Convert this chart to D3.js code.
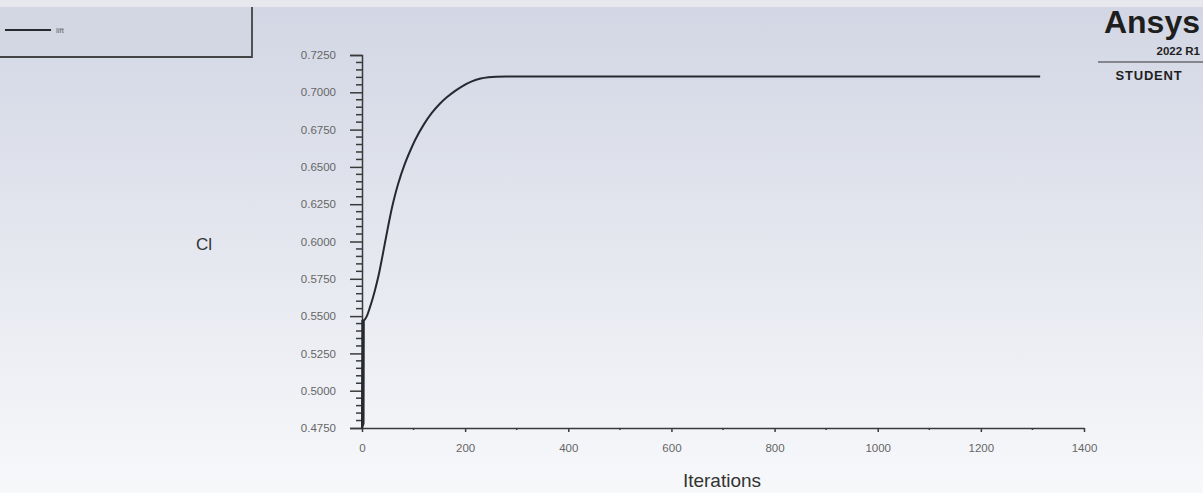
<!DOCTYPE html>
<html>
<head>
<meta charset="utf-8">
<script src="https://cdn.jsdelivr.net/npm/d3@7"></script>
<style>
  html, body { margin: 0; padding: 0; background: #fff; }
  svg { display: block; font-family: "Liberation Sans", Arial, sans-serif; }
</style>
</head>
<body>
<div id="chart"></div>
<script>
'use strict';

// lift coefficient history
const iterations = [0, 0.5, 1, 1.5, 2, 2.5, 3, 3.5, 4, 6, 10, 15, 20, 25, 32, 39, 45, 50, 58, 64, 70,
  83, 95, 103, 120, 135, 150, 165, 180, 195, 213, 230, 245, 260, 280, 400, 600, 800, 1000, 1200, 1315];
const liftValues = [0.4750, 0.5480, 0.4750, 0.5475, 0.4760, 0.5470, 0.4780, 0.5470, 0.5472, 0.5480,
  0.5505, 0.5555, 0.5610, 0.5672, 0.5770, 0.5890, 0.6000, 0.6090, 0.6225, 0.6310, 0.6385,
  0.6520, 0.6620, 0.6680, 0.6785, 0.6860, 0.6920, 0.6968, 0.7008, 0.7042, 0.7073, 0.7092,
  0.7101, 0.7105, 0.7106, 0.7106, 0.7106, 0.7106, 0.7106, 0.7106, 0.7106];

const yTicks = [0.4750, 0.5000, 0.5250, 0.5500, 0.5750, 0.6000, 0.6250, 0.6500, 0.6750, 0.7000, 0.7250];
const xTicks = [0, 200, 400, 600, 800, 1000, 1200, 1400];
const seriesName = 'lift';

const width = 1203, height = 493;
const margin = { left: 362, right: 119, top: 55, bottom: 65 };

const svg = d3.select('#chart').append('svg')
  .attr('width', width)
  .attr('height', height);

// background gradient
const defs = svg.append('defs');
const grad = defs.append('linearGradient')
  .attr('id', 'bg')
  .attr('x1', 0).attr('y1', 0).attr('x2', 0).attr('y2', 1);
grad.append('stop').attr('offset', '0%').attr('stop-color', '#d2d6e4');
grad.append('stop').attr('offset', '100%').attr('stop-color', '#f7f8fa');

svg.append('rect')
  .attr('width', width).attr('height', height)
  .attr('fill', 'url(#bg)');
svg.append('rect')
  .attr('width', width).attr('height', 7)
  .attr('fill', '#e6e8ee');

const x = d3.scaleLinear()
  .domain([0, 1400])
  .range([margin.left, width - margin.right]);

const y = d3.scaleLinear()
  .domain([0.4750, 0.7250])
  .range([height - margin.bottom, margin.top]);

const axisColor = '#3a3a3a';
const labelColor = '#666';

// y axis
const yAxis = svg.append('g')
  .attr('transform', `translate(${margin.left},0)`)
  .call(d3.axisLeft(y).tickValues(yTicks).tickSize(12).tickPadding(14)
    .tickFormat(d3.format('.4f')));
yAxis.select('.domain').attr('stroke', axisColor).attr('stroke-width', 1.5);
yAxis.selectAll('.tick line').attr('stroke', axisColor).attr('stroke-width', 1.5);
yAxis.selectAll('.tick text')
  .style('fill', labelColor)
  .style('font-size', '11.5px');

// y minor ticks
const yMinor = d3.range(0.4750, 0.7250001, 0.005).filter(v => !yTicks.some(t => Math.abs(t - v) < 1e-6));
svg.append('g').selectAll('line')
  .data(yMinor)
  .enter().append('line')
  .attr('x1', margin.left - 6).attr('x2', margin.left)
  .attr('y1', d => y(d)).attr('y2', d => y(d))
  .attr('stroke', axisColor).attr('stroke-width', 1.5);

// x axis
const xAxis = svg.append('g')
  .attr('transform', `translate(0,${height - margin.bottom})`)
  .call(d3.axisBottom(x).tickValues(xTicks).tickSize(4).tickPadding(12).tickSizeOuter(0)
    .tickFormat(d3.format('d')));
xAxis.select('.domain').attr('stroke', axisColor).attr('stroke-width', 1.5);
xAxis.selectAll('.tick line').attr('stroke', axisColor).attr('stroke-width', 1.5);
xAxis.selectAll('.tick text')
  .style('fill', labelColor)
  .style('font-size', '11.5px');

// x minor ticks
svg.append('g').selectAll('line')
  .data(d3.range(100, 1400, 200))
  .enter().append('line')
  .attr('x1', d => x(d)).attr('x2', d => x(d))
  .attr('y1', height - margin.bottom).attr('y2', height - margin.bottom + 2)
  .attr('stroke', axisColor).attr('stroke-width', 1.5);

// axis titles
svg.append('text')
  .attr('x', 204).attr('y', 250)
  .attr('text-anchor', 'middle')
  .attr('fill', '#333')
  .style('font-size', '17px')
  .text('Cl');

svg.append('text')
  .attr('x', 722).attr('y', 487)
  .attr('text-anchor', 'middle')
  .attr('fill', '#333')
  .style('font-size', '19px')
  .text('Iterations');

// the lift curve
const line = d3.line()
  .x((d, i) => x(iterations[i]))
  .y(d => y(d))
  .curve(d3.curveMonotoneX);

svg.append('path')
  .datum(liftValues)
  .attr('fill', 'none')
  .attr('stroke', '#262a30')
  .attr('stroke-width', 2)
  .attr('d', line);

// legend box (only right and bottom edges are drawn)
svg.append('rect')
  .attr('x', 0).attr('y', 7)
  .attr('width', 252).attr('height', 50)
  .attr('fill', '#d3d7e4');
svg.append('path')
  .attr('d', 'M252,7V57H0')
  .attr('fill', 'none')
  .attr('stroke', '#444')
  .attr('stroke-width', 1.8);
svg.append('line')
  .attr('x1', 5).attr('x2', 51)
  .attr('y1', 30).attr('y2', 30)
  .attr('stroke', '#262a30').attr('stroke-width', 2);
svg.append('text')
  .attr('x', 56).attr('y', 33)
  .style('fill', '#666')
  .style('font-size', '8px')
  .text(seriesName);

// Ansys logo block
const logo = svg.append('g');
logo.append('text')
  .attr('x', 1200).attr('y', 33)
  .attr('text-anchor', 'end')
  .attr('fill', '#1e1e1e')
  .style('font-size', '32px')
  .style('font-weight', 'bold')
  .text('Ansys');
logo.append('text')
  .attr('x', 1200).attr('y', 55)
  .attr('text-anchor', 'end')
  .attr('fill', '#1e1e1e')
  .style('font-size', '11.5px')
  .style('font-weight', 'bold')
  .text('2022 R1');
logo.append('line')
  .attr('x1', 1098).attr('x2', 1203)
  .attr('y1', 62).attr('y2', 62)
  .attr('stroke', '#333').attr('stroke-width', 1.2);
logo.append('text')
  .attr('x', 1149).attr('y', 80)
  .attr('text-anchor', 'middle')
  .attr('fill', '#1e1e1e')
  .style('font-size', '13px')
  .style('font-weight', 'bold')
  .style('letter-spacing', '0.8px')
  .text('STUDENT');
</script>
</body>
</html>
